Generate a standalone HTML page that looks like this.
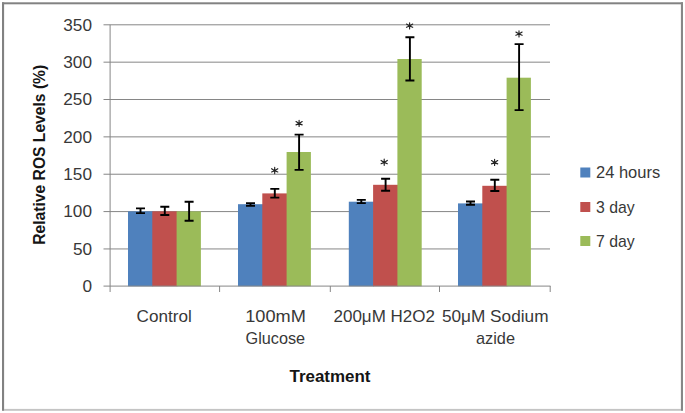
<!DOCTYPE html><html><head><meta charset="utf-8"><style>html,body{margin:0;padding:0;background:#fff;}svg{display:block;}text{font-family:"Liberation Sans",sans-serif;}</style></head><body>
<svg width="685" height="413" viewBox="0 0 685 413">
<rect x="0" y="0" width="685" height="413" fill="#fff"/>
<rect x="2" y="2.3" width="681" height="2" fill="#828282"/>
<rect x="2" y="2.3" width="2.1" height="408.5" fill="#828282"/>
<rect x="680.9" y="2.3" width="2.1" height="408.5" fill="#878787"/>
<rect x="4" y="408.9" width="677" height="1.9" fill="#c4c4c4"/>
<line x1="103.5" y1="248.94" x2="550" y2="248.94" stroke="#868686" stroke-width="1"/>
<line x1="103.5" y1="211.59" x2="550" y2="211.59" stroke="#868686" stroke-width="1"/>
<line x1="103.5" y1="174.23" x2="550" y2="174.23" stroke="#868686" stroke-width="1"/>
<line x1="103.5" y1="136.87" x2="550" y2="136.87" stroke="#868686" stroke-width="1"/>
<line x1="103.5" y1="99.51" x2="550" y2="99.51" stroke="#868686" stroke-width="1"/>
<line x1="103.5" y1="62.16" x2="550" y2="62.16" stroke="#868686" stroke-width="1"/>
<line x1="103.5" y1="24.80" x2="550" y2="24.80" stroke="#868686" stroke-width="1"/>
<rect x="128.00" y="211.35" width="25.10" height="74.95" fill="#4F81BD"/>
<rect x="152.30" y="211.35" width="25.10" height="74.95" fill="#C0504D"/>
<rect x="176.60" y="211.35" width="24.30" height="74.95" fill="#9BBB59"/>
<rect x="238.00" y="204.20" width="25.10" height="82.10" fill="#4F81BD"/>
<rect x="262.30" y="193.40" width="25.10" height="92.90" fill="#C0504D"/>
<rect x="286.60" y="152.00" width="24.30" height="134.30" fill="#9BBB59"/>
<rect x="348.80" y="201.70" width="25.10" height="84.60" fill="#4F81BD"/>
<rect x="373.10" y="184.80" width="25.10" height="101.50" fill="#C0504D"/>
<rect x="397.40" y="59.00" width="24.30" height="227.30" fill="#9BBB59"/>
<rect x="458.00" y="203.40" width="25.10" height="82.90" fill="#4F81BD"/>
<rect x="482.30" y="185.80" width="25.10" height="100.50" fill="#C0504D"/>
<rect x="506.60" y="77.70" width="24.30" height="208.60" fill="#9BBB59"/>
<line x1="110.1" y1="24.80" x2="110.1" y2="292" stroke="#868686" stroke-width="1"/>
<line x1="103.5" y1="286.1" x2="550.5" y2="286.1" stroke="#868686" stroke-width="1"/>
<line x1="219.60" y1="286" x2="219.60" y2="292" stroke="#868686" stroke-width="1"/>
<line x1="330.30" y1="286" x2="330.30" y2="292" stroke="#868686" stroke-width="1"/>
<line x1="439.50" y1="286" x2="439.50" y2="292" stroke="#868686" stroke-width="1"/>
<line x1="550.20" y1="286" x2="550.20" y2="292" stroke="#868686" stroke-width="1"/>
<path d="M140.50 208.40V213.10M136.00 208.40H145.00M136.00 213.10H145.00" stroke="#000" stroke-width="1.9" fill="none"/>
<path d="M164.80 206.80V215.00M160.30 206.80H169.30M160.30 215.00H169.30" stroke="#000" stroke-width="1.9" fill="none"/>
<path d="M189.10 201.80V220.80M184.60 201.80H193.60M184.60 220.80H193.60" stroke="#000" stroke-width="1.9" fill="none"/>
<path d="M250.50 203.10V205.80M246.00 203.10H255.00M246.00 205.80H255.00" stroke="#000" stroke-width="1.9" fill="none"/>
<path d="M274.80 188.90V197.60M270.30 188.90H279.30M270.30 197.60H279.30" stroke="#000" stroke-width="1.9" fill="none"/>
<path d="M299.10 134.60V169.90M294.60 134.60H303.60M294.60 169.90H303.60" stroke="#000" stroke-width="1.9" fill="none"/>
<path d="M361.30 199.90V203.10M356.80 199.90H365.80M356.80 203.10H365.80" stroke="#000" stroke-width="1.9" fill="none"/>
<path d="M385.60 178.70V190.80M381.10 178.70H390.10M381.10 190.80H390.10" stroke="#000" stroke-width="1.9" fill="none"/>
<path d="M409.90 37.20V80.50M405.40 37.20H414.40M405.40 80.50H414.40" stroke="#000" stroke-width="1.9" fill="none"/>
<path d="M470.50 201.50V204.80M466.00 201.50H475.00M466.00 204.80H475.00" stroke="#000" stroke-width="1.9" fill="none"/>
<path d="M494.80 179.70V191.00M490.30 179.70H499.30M490.30 191.00H499.30" stroke="#000" stroke-width="1.9" fill="none"/>
<path d="M519.10 44.10V110.10M514.60 44.10H523.60M514.60 110.10H523.60" stroke="#000" stroke-width="1.9" fill="none"/>
<path d="M274.70 170.70L274.70 167.40M274.70 170.70L274.70 173.60M274.70 170.70L271.60 168.70M274.70 170.70L277.80 168.70M274.70 170.70L271.60 172.00M274.70 170.70L277.80 172.00" stroke="#222" stroke-width="1.15" stroke-linecap="round" fill="none"/>
<path d="M299.10 123.60L299.10 120.30M299.10 123.60L299.10 126.50M299.10 123.60L296.00 121.60M299.10 123.60L302.20 121.60M299.10 123.60L296.00 124.90M299.10 123.60L302.20 124.90" stroke="#222" stroke-width="1.15" stroke-linecap="round" fill="none"/>
<path d="M384.20 162.40L384.20 159.10M384.20 162.40L384.20 165.30M384.20 162.40L381.10 160.40M384.20 162.40L387.30 160.40M384.20 162.40L381.10 163.70M384.20 162.40L387.30 163.70" stroke="#222" stroke-width="1.15" stroke-linecap="round" fill="none"/>
<path d="M409.60 26.00L409.60 22.70M409.60 26.00L409.60 28.90M409.60 26.00L406.50 24.00M409.60 26.00L412.70 24.00M409.60 26.00L406.50 27.30M409.60 26.00L412.70 27.30" stroke="#222" stroke-width="1.15" stroke-linecap="round" fill="none"/>
<path d="M494.60 162.60L494.60 159.30M494.60 162.60L494.60 165.50M494.60 162.60L491.50 160.60M494.60 162.60L497.70 160.60M494.60 162.60L491.50 163.90M494.60 162.60L497.70 163.90" stroke="#222" stroke-width="1.15" stroke-linecap="round" fill="none"/>
<path d="M519.00 34.00L519.00 30.70M519.00 34.00L519.00 36.90M519.00 34.00L515.90 32.00M519.00 34.00L522.10 32.00M519.00 34.00L515.90 35.30M519.00 34.00L522.10 35.30" stroke="#222" stroke-width="1.15" stroke-linecap="round" fill="none"/>
<text x="92" y="292.00" font-size="17.2" text-anchor="end" fill="#383838">0</text>
<text x="92" y="254.64" font-size="17.2" text-anchor="end" fill="#383838">50</text>
<text x="92" y="217.29" font-size="17.2" text-anchor="end" fill="#383838">100</text>
<text x="92" y="179.93" font-size="17.2" text-anchor="end" fill="#383838">150</text>
<text x="92" y="142.57" font-size="17.2" text-anchor="end" fill="#383838">200</text>
<text x="92" y="105.21" font-size="17.2" text-anchor="end" fill="#383838">250</text>
<text x="92" y="67.86" font-size="17.2" text-anchor="end" fill="#383838">300</text>
<text x="92" y="30.50" font-size="17.2" text-anchor="end" fill="#383838">350</text>
<text x="164.2" y="321.5" font-size="17" text-anchor="middle" font-weight="normal" fill="#383838" textLength="55.2" lengthAdjust="spacingAndGlyphs">Control</text>
<text x="275.5" y="322" font-size="17" text-anchor="middle" font-weight="normal" fill="#383838" textLength="60.6" lengthAdjust="spacingAndGlyphs">100mM</text>
<text x="275.3" y="343.8" font-size="17" text-anchor="middle" font-weight="normal" fill="#383838" textLength="59.6" lengthAdjust="spacingAndGlyphs">Glucose</text>
<text x="384.2" y="321.9" font-size="17" text-anchor="middle" font-weight="normal" fill="#383838" textLength="101.4" lengthAdjust="spacingAndGlyphs">200&#956;M H2O2</text>
<text x="495.2" y="321.9" font-size="17" text-anchor="middle" font-weight="normal" fill="#383838" textLength="106.6" lengthAdjust="spacingAndGlyphs">50&#956;M Sodium</text>
<text x="495.5" y="344.2" font-size="17" text-anchor="middle" font-weight="normal" fill="#383838" textLength="39" lengthAdjust="spacingAndGlyphs">azide</text>
<text x="330" y="381.8" font-size="16.5" text-anchor="middle" font-weight="bold" fill="#151515" textLength="81" lengthAdjust="spacingAndGlyphs">Treatment</text>
<text x="0" y="0" font-size="16.5" font-weight="bold" text-anchor="middle" fill="#151515" textLength="180" lengthAdjust="spacingAndGlyphs" transform="translate(44.6 154.75) rotate(-90)">Relative ROS Levels (%)</text>
<rect x="580.3" y="167.5" width="10" height="10" fill="#4F81BD"/>
<text x="596" y="177.7" font-size="17" text-anchor="start" font-weight="normal" fill="#383838" textLength="64.2" lengthAdjust="spacingAndGlyphs">24 hours</text>
<rect x="580.3" y="202" width="10" height="10" fill="#C0504D"/>
<text x="596" y="212.9" font-size="17" text-anchor="start" font-weight="normal" fill="#383838" textLength="38.7" lengthAdjust="spacingAndGlyphs">3 day</text>
<rect x="580.3" y="236" width="10" height="10" fill="#9BBB59"/>
<text x="596" y="246.9" font-size="17" text-anchor="start" font-weight="normal" fill="#383838" textLength="38.7" lengthAdjust="spacingAndGlyphs">7 day</text>
</svg></body></html>
